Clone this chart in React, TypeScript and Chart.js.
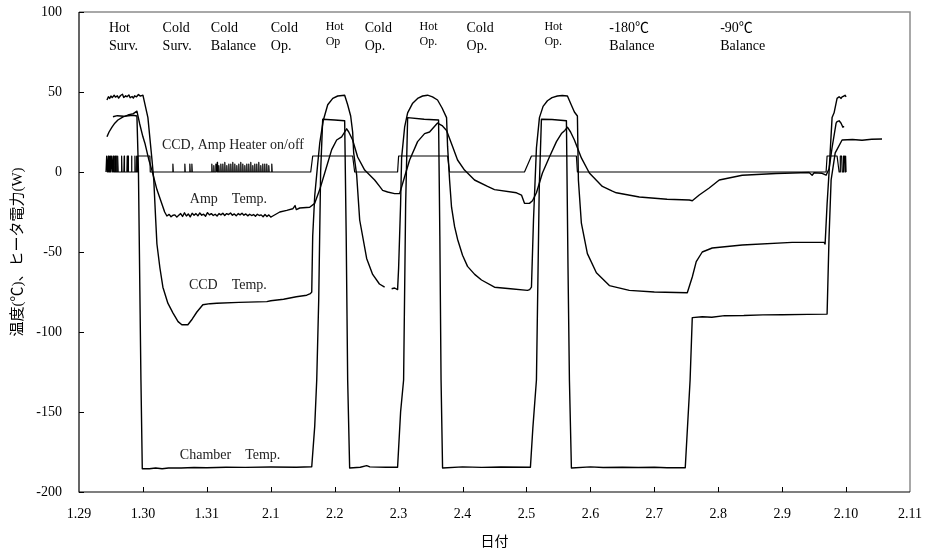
import React, { useEffect, useRef } from 'react';
import { Chart, registerables } from 'chart.js';

Chart.register(...registerables);

// x = days since 1.29 00:00 (tick i -> label xTickLabels[i])
const xTickLabels = ['1.29', '1.30', '1.31', '2.1', '2.2', '2.3', '2.4', '2.5', '2.6', '2.7', '2.8', '2.9', '2.10', '2.11'];
const yTickValues = [100, 50, 0, -50, -100, -150, -200];

const chamberTemp: [number, number][] = [
  [0.531, 34.5], [0.6, 35.2], [0.7, 34.8], [0.844, 35.5], [0.906, 35], [0.93, 0], [0.969, -130], [0.99, -185.5],
  [1.1, -185.5], [1.2, -185], [1.3, -185.5], [1.4, -185], [1.6, -185], [1.8, -184.7], [2.0, -184.8], [2.3, -184.5],
  [2.6, -184.6], [3.0, -184.4], [3.4, -184.5], [3.641, -184.2], [3.6875, -159], [3.719, -130], [3.75, -80], [3.78, 0],
  [3.8125, 33], [4.0, 32.5], [4.156, 32], [4.18, -40], [4.203, -130], [4.234, -185], [4.4, -184.5], [4.5, -183.5],
  [4.55, -184.3], [4.8, -184.5], [4.984, -184.5], [5.031, -150], [5.078, -130], [5.11, -20], [5.141, 34], [5.4, 33],
  [5.625, 32.5], [5.645, -40], [5.664, -130], [5.6875, -185], [6.0, -184.3], [6.3, -184.6], [6.6, -184.4],
  [7.062, -184.5], [7.1, -160], [7.156, -130], [7.2, -10], [7.234, 33], [7.4, 32.8], [7.625, 32], [7.65, -60],
  [7.672, -130], [7.703, -185], [8.0, -184.3], [8.2, -184.7], [8.5, -184.5], [8.75, -184.7], [9.0, -184.5],
  [9.2, -184.8], [9.484, -184.8], [9.56, -130], [9.594, -91], [9.75, -90.5], [9.9, -90.8], [10.1, -89.8],
  [10.4, -89.7], [10.7, -89.3], [11.0, -89.2], [11.4, -89], [11.703, -88.8], [11.734, -40], [11.766, -5],
  [11.83, 12], [11.9375, 20], [12.1, 20.3], [12.25, 19.8], [12.4, 20.5], [12.5625, 20.6],
];

const ccdTemp: [number, number | null][] = [
  [0.4375, 45], [0.46, 47], [0.48, 46], [0.5, 47.5], [0.52, 46.5], [0.55, 48], [0.57, 46.8], [0.6, 47.6], [0.62, 46.2],
  [0.65, 47.8], [0.68, 48.6], [0.7, 46.6], [0.73, 47.6], [0.75, 47], [0.78, 48.2], [0.8, 46.4], [0.83, 47.2],
  [0.85, 46.2], [0.87, 47.6], [0.9, 47], [0.93, 48.4], [0.96, 47.4], [1.0, 48], [1.078, 34], [1.141, 8], [1.17, -5],
  [1.2, -30], [1.219, -45], [1.266, -60], [1.3125, -72], [1.39, -82], [1.469, -88], [1.55, -93.5], [1.609, -95.5],
  [1.703, -95.5], [1.77, -92], [1.844, -87.5], [1.9375, -83], [2.05, -82.3], [2.156, -82], [2.5, -81.5],
  [2.9375, -81], [3.0, -80.5], [3.2, -79.5], [3.4, -78], [3.5625, -77], [3.62, -76], [3.641, -75], [3.656, -40],
  [3.6875, -15], [3.734, 5], [3.766, 18], [3.82, 32], [3.891, 42], [3.97, 46], [4.047, 47.5], [4.156, 48],
  [4.203, 42], [4.25, 35], [4.281, 25], [4.297, 12], [4.344, -2], [4.391, -30], [4.5, -54], [4.594, -64],
  [4.7, -70], [4.781, -72], [4.84, null], [4.891, -73], [4.9375, -72.5], [4.984, -73.5], [5.0, -60], [5.031, -20],
  [5.047, 9], [5.094, 28], [5.141, 37], [5.22, 43], [5.297, 46], [5.375, 47.5], [5.453, 48], [5.53, 47],
  [5.609, 45], [5.68, 40], [5.75, 34], [5.766, 16], [5.797, -5], [5.828, -22], [5.875, -34], [5.922, -42],
  [6.0, -52], [6.078, -59], [6.19, -64], [6.297, -67.5], [6.5, -72], [6.75, -73], [7.016, -74], [7.05, -73.5],
  [7.078, -72], [7.11, -30], [7.156, 15], [7.203, 34], [7.26, 41], [7.328, 44.5], [7.4, 46.5], [7.484, 47.5],
  [7.56, 47.8], [7.641, 47.5], [7.7, 42], [7.75, 37.5], [7.797, 35], [7.8125, -5], [7.859, -32], [7.953, -51],
  [8.094, -63], [8.297, -71], [8.609, -74], [9.0, -75], [9.516, -75.5], [9.594, -65.6], [9.656, -56], [9.75, -50],
  [9.906, -47.5], [10.375, -45.6], [11.156, -44], [11.656, -44], [11.672, -45], [11.703, -20], [11.734, 0],
  [11.781, 34], [11.8125, 37], [11.859, 46], [11.891, 47], [11.922, 46], [11.9375, 47], [11.969, 47.5],
  [11.984, 48], [12.0, 47],
];

const ampTemp: [number, number][] = [
  [0.4375, 22], [0.47, 25], [0.516, 28], [0.56, 30.5], [0.609, 32.5], [0.69, 34.5], [0.766, 35.6], [0.85, 36.5],
  [0.906, 38], [0.95, 30], [1.0, 22], [1.031, 18], [1.09, 8], [1.141, 1], [1.219, -11], [1.297, -20], [1.34, -25],
  [1.375, -27.5], [1.41, -26.5], [1.44, -28], [1.47, -27], [1.5, -26.8], [1.53, -28.2], [1.56, -27], [1.59, -26],
  [1.62, -27.8], [1.65, -25.5], [1.68, -27.5], [1.71, -26.2], [1.74, -28], [1.77, -25.8], [1.8, -27], [1.83, -26],
  [1.86, -27.4], [1.89, -25.6], [1.92, -27], [1.95, -26.4], [1.98, -27.6], [2.01, -25.4], [2.04, -26.8], [2.07, -26],
  [2.1, -27.2], [2.13, -26.4], [2.16, -27.5], [2.19, -26], [2.22, -26.8], [2.25, -25.8], [2.28, -27.2], [2.31, -26],
  [2.34, -26.6], [2.37, -25.6], [2.4, -27], [2.43, -26.2], [2.46, -27.4], [2.49, -26], [2.52, -26.8], [2.55, -25.8],
  [2.58, -27], [2.61, -26.2], [2.64, -27.4], [2.67, -26.4], [2.7, -27.2], [2.73, -26.6], [2.76, -27.6], [2.79, -26.4],
  [2.82, -27.2], [2.85, -26.8], [2.88, -28], [2.91, -26.6], [2.94, -27.8], [2.97, -26.8], [3.0, -28.2], [3.031, -27.5],
  [3.141, -25], [3.25, -24], [3.344, -23], [3.38, -21], [3.4, -23.5], [3.453, -22.5], [3.609, -22], [3.6875, -19.6],
  [3.766, -11], [3.844, -0.6], [3.953, 14], [4.031, 20], [4.109, 22], [4.156, 25], [4.1875, 27], [4.22, 25],
  [4.281, 20], [4.359, 9.4], [4.469, 1.2], [4.625, -5], [4.703, -9], [4.75, -11.5], [4.828, -12.5], [4.9375, -13.5],
  [5.016, -13.5], [5.094, -3], [5.172, 7.5], [5.297, 19], [5.406, 24], [5.484, 25], [5.55, 28], [5.609, 30.6],
  [5.68, 29], [5.75, 26], [5.844, 16], [5.922, 7.5], [6.031, 1.2], [6.1875, -5], [6.391, -9], [6.5, -11],
  [6.844, -13], [6.922, -14.4], [6.969, -19.6], [7.047, -19.6], [7.094, -18], [7.156, -13], [7.25, -0.6],
  [7.359, 9.4], [7.469, 19], [7.547, 24], [7.6, 26], [7.641, 28], [7.69, 25], [7.75, 20], [7.859, 8.8],
  [7.984, -0.6], [8.1875, -9], [8.344, -12], [8.406, -13], [8.766, -15.6], [9.2, -17], [9.547, -17.5],
  [9.594, -18], [9.703, -14.4], [9.859, -10], [10.016, -5], [10.375, -2], [10.906, -0.9], [11.422, -0.3],
  [11.469, -2], [11.5, -0.5], [11.625, -0.8], [11.6875, -2], [11.734, 2], [11.78, 15], [11.844, 30.6],
  [11.859, 31.5], [11.891, 32], [11.922, 30.5], [11.95, 28], [11.969, 28.5],
];

// Heater on/off: short pulses (time, height, half-width) and on-blocks (start, fully on, begin off, fully off)
const heaterPulseTimes = [
  0.433, 0.458, 0.484, 0.511, 0.536, 0.5625, 0.578, 0.605, 0.667, 0.708, 0.755, 0.77, 0.823, 0.875, 0.902,
  1.469, 1.656, 1.734, 1.766,
  2.078, 2.109, 2.141, 2.164, 2.1875, 2.219, 2.25, 2.281, 2.3125, 2.344, 2.375, 2.406, 2.4375, 2.469, 2.5, 2.531,
  2.5625, 2.594, 2.625, 2.656, 2.6875, 2.719, 2.75, 2.781, 2.8125, 2.844, 2.875, 2.906, 2.9375, 2.969, 3.016,
];
const heaterPulseHeights = [
  10, 10, 10, 10, 10, 10, 10, 10, 10, 10, 10, 10, 10, 10, 10,
  5, 5, 5, 5,
  5, 4, 5, 6, 4, 5, 5, 6, 4, 5, 5, 6, 5, 4, 5, 6, 5, 4, 5, 5, 6, 4, 5, 5, 6, 4, 5, 5, 5, 4, 5,
];
const heaterPulseHalfWidths = [
  0.011, 0.011, 0.011, 0.011, 0.011, 0.01, 0.006, 0.008, 0.006, 0.006, 0.006, 0.005, 0.006, 0.006, 0.006,
  0.006, 0.006, 0.006, 0.006,
  0.006, 0.006, 0.006, 0.006, 0.006, 0.006, 0.006, 0.006, 0.006, 0.006, 0.006, 0.006, 0.006, 0.006, 0.006, 0.006,
  0.006, 0.006, 0.006, 0.006, 0.006, 0.006, 0.006, 0.006, 0.006, 0.006, 0.006, 0.006, 0.006, 0.006, 0.006,
];
const heaterBlocks: [number, number, number, number][] = [
  [0.915, 0.922, 1.109, 1.115],
  [3.625, 3.656, 4.281, 4.3125],
  [4.984, 5.0, 5.766, 5.797],
  [6.969, 7.078, 7.781, 7.797],
  [11.6875, 11.703, 11.859, 11.891],
  [11.905, 11.91, 11.93, 11.94],
  [11.955, 11.96, 11.975, 11.985],
  [11.99, 11.993, 11.996, 12.0],
];

const phaseLabels = [
  { lines: ['Hot', 'Surv.'], x: 0.469, y: 90, small: false },
  { lines: ['Cold', 'Surv.'], x: 1.308, y: 90, small: false },
  { lines: ['Cold', 'Balance'], x: 2.0625, y: 90, small: false },
  { lines: ['Cold', 'Op.'], x: 3.0, y: 90, small: false },
  { lines: ['Hot', 'Op'], x: 3.859, y: 90.5, small: true },
  { lines: ['Cold', 'Op.'], x: 4.469, y: 90, small: false },
  { lines: ['Hot', 'Op.'], x: 5.328, y: 90.5, small: true },
  { lines: ['Cold', 'Op.'], x: 6.0625, y: 90, small: false },
  { lines: ['Hot', 'Op.'], x: 7.281, y: 90.5, small: true },
  { lines: ['-180℃', 'Balance'], x: 8.297, y: 90, small: false },
  { lines: ['-90℃', 'Balance'], x: 10.031, y: 90, small: false },
];

const seriesLabels = [
  { text: 'CCD, Amp Heater on/off', x: 1.297, y: 16.9 },
  { text: 'Amp    Temp.', x: 1.734, y: -16.9 },
  { text: 'CCD    Temp.', x: 1.719, y: -70.6 },
  { text: 'Chamber    Temp.', x: 1.578, y: -176.9 },
];

const SERIF = '"Liberation Serif", "Times New Roman", "Noto Sans CJK JP", serif';

function buildHeater(): { x: number; y: number }[] {
  const pts: { x: number; y: number }[] = [];
  heaterPulseTimes.forEach((t, i) => {
    const h = heaterPulseHeights[i];
    const w = heaterPulseHalfWidths[i];
    pts.push({ x: t - w, y: 0 }, { x: t - 0.001, y: h }, { x: t + 0.001, y: h }, { x: t + w, y: 0 });
  });
  heaterBlocks.forEach(([a, b, c, d]) => {
    pts.push({ x: a, y: 0 }, { x: b, y: 10 }, { x: c, y: 10 }, { x: d, y: 0 });
  });
  pts.sort((p, q) => p.x - q.x);
  return pts;
}

const toPts = (arr: [number, number | null][]) => arr.map(([x, y]) => ({ x, y }));

const zeroScalePadding = (s: any) => {
  s.paddingTop = 0;
  s.paddingBottom = 0;
  s.paddingLeft = 0;
  s.paddingRight = 0;
};

const decorPlugin = {
  id: 'decor',
  afterDraw(chart: any) {
    const { ctx, chartArea: a } = chart;
    const xs = chart.scales.x;
    const ys = chart.scales.y;
    ctx.save();
    // top & right frame (grey)
    ctx.strokeStyle = '#8c8c8c';
    ctx.lineWidth = 1.5;
    ctx.beginPath();
    ctx.moveTo(a.left, a.top);
    ctx.lineTo(a.right, a.top);
    ctx.lineTo(a.right, a.bottom);
    ctx.stroke();
    // axes (black)
    ctx.strokeStyle = '#000';
    ctx.lineWidth = 1.2;
    ctx.beginPath();
    ctx.moveTo(a.left, a.top);
    ctx.lineTo(a.left, a.bottom);
    ctx.lineTo(a.right, a.bottom);
    ctx.stroke();
    // inward ticks
    ctx.lineWidth = 1;
    ctx.beginPath();
    for (let i = 1; i < xTickLabels.length - 1; i++) {
      const px = Math.round(xs.getPixelForValue(i)) + 0.5;
      ctx.moveTo(px, a.bottom);
      ctx.lineTo(px, a.bottom - 5);
    }
    yTickValues.forEach((v) => {
      const py = Math.round(ys.getPixelForValue(v)) + 0.5;
      ctx.moveTo(a.left, py);
      ctx.lineTo(a.left + 5, py);
    });
    ctx.stroke();
    // phase labels
    ctx.fillStyle = '#000';
    ctx.textAlign = 'left';
    ctx.textBaseline = 'middle';
    phaseLabels.forEach((l) => {
      const size = l.small ? 12 : 14;
      const gap = l.small ? 14.5 : 18;
      ctx.font = `${size}px ${SERIF}`;
      const px = xs.getPixelForValue(l.x);
      const py = ys.getPixelForValue(l.y);
      l.lines.forEach((t, i) => ctx.fillText(t, px, py + i * gap));
    });
    // series labels
    ctx.fillStyle = '#222';
    ctx.font = `14px ${SERIF}`;
    seriesLabels.forEach((l) => {
      ctx.fillText(l.text, xs.getPixelForValue(l.x), ys.getPixelForValue(l.y));
    });
    ctx.restore();
  },
};

export default function App() {
  const canvasRef = useRef<HTMLCanvasElement | null>(null);

  useEffect(() => {
    if (!canvasRef.current) return;
    const lineStyle = {
      borderColor: '#000',
      borderWidth: 1.4,
      pointRadius: 0,
      tension: 0,
      fill: false,
      borderJoinStyle: 'round' as const,
      spanGaps: false,
    };
    const chart = new Chart(canvasRef.current, {
      type: 'line',
      data: {
        datasets: [
          { label: 'Chamber Temp.', data: toPts(chamberTemp), ...lineStyle },
          { label: 'CCD Temp.', data: toPts(ccdTemp), ...lineStyle },
          { label: 'Amp Temp.', data: toPts(ampTemp), ...lineStyle },
          { label: 'CCD, Amp Heater on/off', data: buildHeater(), ...lineStyle, borderWidth: 1.2 },
        ],
      },
      options: {
        animation: false,
        responsive: false,
        maintainAspectRatio: false,
        layout: { padding: { top: 12, right: 15, left: 0, bottom: 0 } },
        plugins: { legend: { display: false }, tooltip: { enabled: false } },
        scales: {
          x: {
            type: 'linear',
            min: 0,
            max: 13,
            afterFit: (s: any) => {
              s.height = 63;
              zeroScalePadding(s);
            },
            grid: { display: false, drawTicks: false },
            border: { display: false },
            ticks: {
              stepSize: 1,
              autoSkip: false,
              maxRotation: 0,
              padding: 14,
              color: '#000',
              font: { family: SERIF, size: 14 },
              callback: (v: any) => xTickLabels[Math.round(Number(v))] ?? '',
            },
            title: {
              display: true,
              text: '日付',
              color: '#000',
              font: { family: SERIF, size: 14 },
              padding: { top: 0, bottom: 4 },
            },
          },
          y: {
            type: 'linear',
            min: -200,
            max: 100,
            afterFit: (s: any) => {
              s.width = 79;
              zeroScalePadding(s);
            },
            grid: { display: false, drawTicks: false },
            border: { display: false },
            ticks: {
              stepSize: 50,
              padding: 17,
              color: '#000',
              font: { family: SERIF, size: 14 },
            },
            title: {
              display: true,
              text: '温度(℃)、ヒータ電力(W)',
              color: '#000',
              font: { family: SERIF, size: 15 },
              padding: { top: 9, bottom: 0 },
            },
          },
        },
      },
      plugins: [decorPlugin],
    });
    return () => chart.destroy();
  }, []);

  return (
    <div style={{ position: 'absolute', left: 0, top: 0, width: 925, height: 555, background: '#fff' }}>
      <canvas ref={canvasRef} width={925} height={555} />
    </div>
  );
}
